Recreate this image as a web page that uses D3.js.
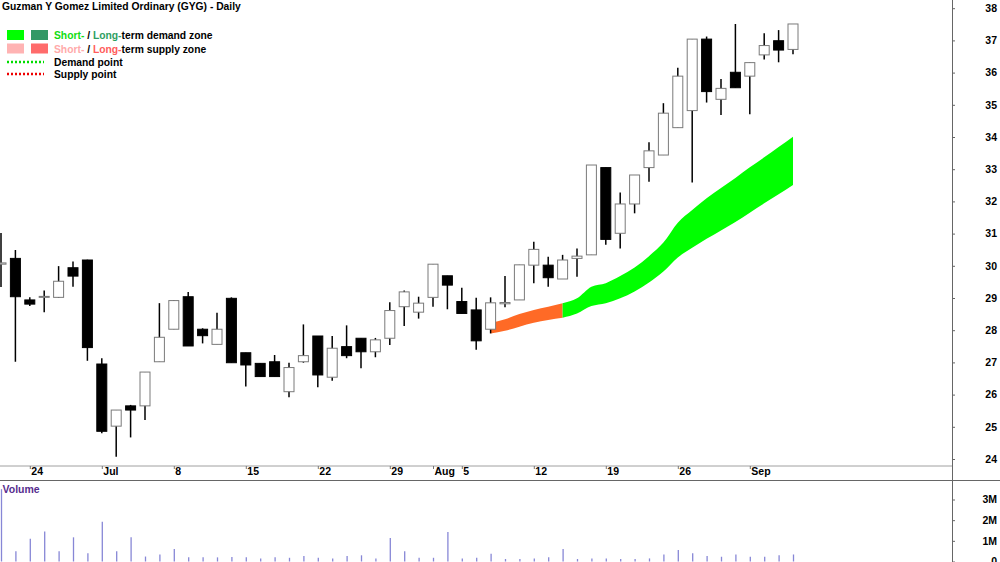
<!DOCTYPE html>
<html><head><meta charset="utf-8">
<script src="https://cdn.jsdelivr.net/npm/d3@7/dist/d3.min.js"></script>
<style>
body{margin:0;background:#fff}
svg{display:block}
text{font-family:"Liberation Sans",Arial,sans-serif;font-weight:bold}
</style>
</head><body>
<svg id="chart" width="1000" height="562"></svg>
<script>
// ---------- DATA ----------
const dates = ["2024-06-20","2024-06-21","2024-06-24","2024-06-25","2024-06-26","2024-06-27","2024-06-28",
"2024-07-01","2024-07-02","2024-07-03","2024-07-04","2024-07-05",
"2024-07-08","2024-07-09","2024-07-10","2024-07-11","2024-07-12",
"2024-07-15","2024-07-16","2024-07-17","2024-07-18","2024-07-19",
"2024-07-22","2024-07-23","2024-07-24","2024-07-25","2024-07-26",
"2024-07-29","2024-07-30","2024-07-31","2024-08-01","2024-08-02",
"2024-08-05","2024-08-06","2024-08-07","2024-08-08","2024-08-09",
"2024-08-12","2024-08-13","2024-08-14","2024-08-15","2024-08-16",
"2024-08-19","2024-08-20","2024-08-21","2024-08-22","2024-08-23",
"2024-08-26","2024-08-27","2024-08-28","2024-08-29","2024-08-30",
"2024-09-02","2024-09-03","2024-09-04","2024-09-05"];
const open  = [30.05,30.23,28.94,29.02,29.02,29.94,30.18, 26.95,25.02,25.65,25.65,27.02, 28.03,29.04,28.03,27.56,28.99,
 27.30,26.97,27.02,26.09,27.02, 27.82,26.54,27.49,27.75,27.33, 27.75,28.73,28.56,29.02,29.69, 28.89,28.63,28.03,28.82,28.94,
 30.02,30.02,29.59,30.23,30.34, 33.05,31.01,31.92,33.05,33.44, 34.29,34.82,37.04,35.17,36.01, 35.89,36.55,36.99,36.72];
const high  = [31.02,30.49,29.02,29.23,29.99,30.13,30.19, 27.13,25.52,25.68,26.70,28.84, 28.94,29.19,28.06,28.54,29.02,
 27.30,26.97,27.23,26.99,28.18, 27.82,27.82,28.15,27.75,27.76, 28.87,29.23,29.04,30.05,29.69, 29.32,29.01,29.02,29.68,30.03,
 30.75,30.28,30.34,30.54,33.13, 33.05,32.28,32.82,33.84,35.05, 36.15,37.04,37.12,35.80,37.51, 36.31,37.22,37.32,37.51];
const low   = [29.34,27.02,28.75,28.56,29.00,29.35,27.05, 24.80,24.07,24.67,25.21,27.02, 28.03,27.51,27.59,27.56,26.99,
 26.25,26.56,26.56,25.92,26.99, 26.23,26.43,27.13,26.82,27.16, 27.54,28.13,28.36,28.73,28.65, 28.52,27.39,27.90,28.71,28.94,
 29.46,29.35,29.59,29.66,30.34, 30.65,30.54,31.63,32.61,33.44, 34.29,32.59,35.07,34.68,35.53, 34.71,36.41,36.32,36.57];
const close = [30.09,29.04,28.81,29.05,29.52,29.68,27.46, 24.86,25.52,25.52,26.70,27.78, 28.92,27.51,27.83,28.03,26.99,
 26.92,26.56,26.56,26.84,27.21, 26.61,27.44,27.21,27.33,27.70, 28.61,29.19,28.84,30.05,29.40, 28.52,27.67,28.85,28.86,30.03,
 30.51,29.63,30.18,30.30,33.13, 30.82,31.92,32.82,33.57,34.74, 35.89,37.04,35.41,35.51,35.53, 36.31,36.84,36.70,37.51];
const volumeM = [3.5,0.5,1.1,1.45,0.5,1.17,0.4, 1.92,0.5,1.17,0.24,0.34, 0.61,0.2,0.2,0.2,0.22,
 0.2,0.15,0.2,0.18,0.27, 0.18,0.15,0.27,0.3,0.15, 1.14,0.5,0.18,0.18,1.43, 0.15,0.18,0.38,0.12,0.12,
 0.15,0.2,0.61,0.12,0.15, 0.15,0.12,0.12,0.15,0.34, 0.56,0.4,0.27,0.23,0.34, 0.23,0.23,0.3,0.34];

// zone band (supply -> demand)
const supplyDates  = ["2024-08-07","2024-08-08","2024-08-09","2024-08-12","2024-08-13","2024-08-14"];
const supplyTop    = [28.23,28.34,28.50,28.63,28.73,28.84];
const supplyBottom = [27.90,27.98,28.11,28.23,28.32,28.39];
const demandDates  = ["2024-08-14","2024-08-15","2024-08-16","2024-08-19","2024-08-20","2024-08-21","2024-08-22","2024-08-23",
 "2024-08-26","2024-08-27","2024-08-28","2024-08-29","2024-08-30","2024-09-02","2024-09-03","2024-09-04","2024-09-05"];
const demandTop    = [28.84,28.99,29.35,29.46,29.68,29.95,30.30,30.72,31.34,31.73,32.10,32.42,32.73,33.06,33.37,33.69,34.01];
const demandBottom = [28.39,28.52,28.75,28.84,28.99,29.20,29.48,29.82,30.26,30.56,30.84,31.10,31.36,31.65,31.94,32.22,32.51];

const xTickDates  = ["2024-06-24","2024-07-01","2024-07-08","2024-07-15","2024-07-22","2024-07-29","2024-08-01","2024-08-05","2024-08-12","2024-08-19","2024-08-26","2024-09-02"];
const xTickLabels = ["24","Jul","8","15","22","29","Aug","5","12","19","26","Sep"];
const priceTicks  = [24,25,26,27,28,29,30,31,32,33,34,35,36,37,38];
const volumeTicks = [0,1,2,3];
const volumeTickLabels = ["0","1M","2M","3M"];
const title = "Guzman Y Gomez Limited Ordinary (GYG) - Daily";

// ---------- DRAW ----------
const svg = d3.select("#chart");
const W = 1000, H = 562, axisX = 952;
const x = d3.scalePoint().domain(dates).range([1, 793]);
const y = d3.scaleLinear().domain([24, 38]).range([459, 8.2]);
const v = d3.scaleLinear().domain([0, 3]).range([561.5, 499.5]);
const bodyW = 10;

// zones
const zoneArea = (dArr, top, bot) => d3.area()
  .x((d,i) => x(dArr[i])).y0((d,i) => y(bot[i])).y1((d,i) => y(top[i]))
  .curve(d3.curveMonotoneX)(dArr);
svg.append("path").attr("d", zoneArea(supplyDates, supplyTop, supplyBottom)).attr("fill", "#ff6a26");
svg.append("path").attr("d", zoneArea(demandDates, demandTop, demandBottom)).attr("fill", "#00ff00");

// candles
const candles = svg.append("g").selectAll("g").data(dates).join("g");
candles.append("line")
  .attr("x1", d => x(d)).attr("x2", d => x(d))
  .attr("y1", (d,i) => y(high[i])).attr("y2", (d,i) => y(low[i]))
  .attr("stroke", "#000").attr("stroke-width", 1.5);
candles.append("rect")
  .attr("x", d => x(d) - bodyW/2)
  .attr("width", bodyW)
  .attr("y", (d,i) => y(Math.max(open[i], close[i])))
  .attr("height", (d,i) => Math.max(0.8, Math.abs(y(open[i]) - y(close[i]))))
  .attr("fill", (d,i) => close[i] >= open[i] ? "#fff" : "#000")
  .attr("stroke", (d,i) => close[i] >= open[i] ? "#7a7a7a" : "#000")
  .attr("stroke-width", 1);

// volume bars
svg.append("g").selectAll("line").data(dates).join("line")
  .attr("x1", d => x(d) + 0.5).attr("x2", d => x(d) + 0.5)
  .attr("y1", v(0)).attr("y2", (d,i) => v(volumeM[i]))
  .attr("stroke", "#8787d6").attr("stroke-width", 1.3);

// frame lines
svg.append("line").attr("x1", 0).attr("x2", axisX).attr("y1", 466).attr("y2", 466).attr("stroke", "#a0a0a0").attr("stroke-width", 1);
svg.append("line").attr("x1", 0).attr("x2", W).attr("y1", 480.5).attr("y2", 480.5).attr("stroke", "#666").attr("stroke-width", 1);

// x axis
const xAxis = d3.axisBottom(x).tickValues(xTickDates)
  .tickFormat(d => xTickLabels[xTickDates.indexOf(d)]).tickSize(3).tickPadding(1);
const gx = svg.append("g").attr("transform", "translate(0,466)").call(xAxis);
gx.select(".domain").remove();
gx.selectAll(".tick line").attr("stroke", "#777");
gx.selectAll(".tick text").attr("text-anchor", "start").attr("dx", 1).attr("dy", "0.71em").attr("y", 1.5)
  .attr("fill", "#000").style("font-size", "10.5px").style("font-family", "'Liberation Sans', Arial, sans-serif").style("font-weight", "bold");

// price axis
const yAxis = d3.axisRight(y).tickValues(priceTicks).tickFormat(d3.format("d")).tickSize(3);
const gy = svg.append("g").attr("transform", `translate(${axisX},0)`).call(yAxis);
gy.select(".domain").remove();
gy.selectAll(".tick line").attr("stroke", "#666");
gy.selectAll(".tick text").attr("x", 45).attr("text-anchor", "end")
  .attr("fill", "#000").style("font-size", "10.5px").style("font-family", "'Liberation Sans', Arial, sans-serif").style("font-weight", "bold");

// volume axis
const vAxis = d3.axisRight(v).tickValues(volumeTicks).tickFormat((d,i) => volumeTickLabels[i]).tickSize(3);
const gv = svg.append("g").attr("transform", `translate(${axisX},0)`).call(vAxis);
gv.select(".domain").remove();
gv.selectAll(".tick line").attr("stroke", "#666");
gv.selectAll(".tick text").attr("x", 45).attr("text-anchor", "end")
  .attr("fill", "#000").style("font-size", "10.5px").style("font-family", "'Liberation Sans', Arial, sans-serif").style("font-weight", "bold");

svg.append("line").attr("x1", axisX + 0.5).attr("x2", axisX + 0.5).attr("y1", 0).attr("y2", H).attr("stroke", "#666").attr("stroke-width", 1);

// title
svg.append("text").attr("x", 2).attr("y", 10).style("font-size", "10.3px").attr("fill", "#000").text(title);

// legend
const lg = svg.append("g");
lg.append("rect").attr("x", 7).attr("y", 30).attr("width", 17).attr("height", 10).attr("fill", "#00ff00");
lg.append("rect").attr("x", 31).attr("y", 30).attr("width", 17).attr("height", 10).attr("fill", "#339966");
lg.append("rect").attr("x", 7).attr("y", 43.5).attr("width", 17).attr("height", 10).attr("fill", "#ffb3b3");
lg.append("rect").attr("x", 31).attr("y", 43.5).attr("width", 17).attr("height", 10).attr("fill", "#ff6b6b");
lg.append("line").attr("x1", 7).attr("x2", 44).attr("y1", 62).attr("y2", 62).attr("stroke", "#00dd00").attr("stroke-width", 2.5).attr("stroke-dasharray", "2,2");
lg.append("line").attr("x1", 7).attr("x2", 44).attr("y1", 74).attr("y2", 74).attr("stroke", "#ee0000").attr("stroke-width", 2.5).attr("stroke-dasharray", "2,2");

const row = (yy, parts) => {
  const t = lg.append("text").attr("x", 54).attr("y", yy).style("font-size", "10.3px");
  parts.forEach(p => t.append("tspan").attr("fill", p[1]).text(p[0]));
};
row(39, [["Short-", "#11dd11"], [" / ", "#000"], ["Long-", "#2e9e62"], ["term demand zone", "#000"]]);
row(52.5, [["Short-", "#ffaaaa"], [" / ", "#000"], ["Long-", "#ff5c5c"], ["term supply zone", "#000"]]);
row(65.5, [["Demand point", "#000"]]);
row(78, [["Supply point", "#000"]]);

// volume label
svg.append("text").attr("x", 2.5).attr("y", 493).style("font-size", "10.5px").attr("fill", "#562d8e").text("Volume");
</script>
</body></html>
